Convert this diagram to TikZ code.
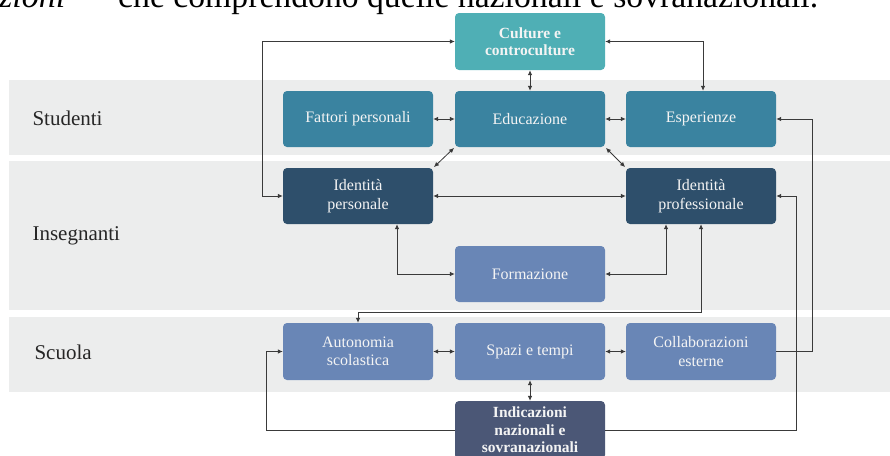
\documentclass[tikz,border=0pt]{standalone}
\usepackage{fontspec}
\setmainfont{Liberation Serif}
\usetikzlibrary{arrows.meta}

\definecolor{bandgray}{HTML}{ECEDED}
\definecolor{cteal}{HTML}{4FAFB5}
\definecolor{cstud}{HTML}{3A83A0}
\definecolor{cident}{HTML}{2E4F6B}
\definecolor{cschool}{HTML}{6986B6}
\definecolor{cnorm}{HTML}{4B5776}
\definecolor{linkcol}{HTML}{3A3A3A}
\definecolor{boxtext}{HTML}{F4F4F4}

\tikzset{
  band/.style={fill=bandgray, draw=none},
  bandlabel/.style={anchor=west, font=\fontsize{21}{24}\selectfont, text=black!85},
  stepbox/.style={rectangle, rounded corners=4pt, minimum width=150pt,
    minimum height=56pt, inner sep=0pt, align=center, text=boxtext,
    font=\fontsize{16}{18.5}\selectfont},
  boldbox/.style={stepbox, font=\fontsize{15.5}{17.5}\selectfont\bfseries},
  link/.style={draw=linkcol, line width=0.8pt},
  both/.style={link, {Latex[length=5pt,width=4.5pt]}-{Latex[length=5pt,width=4.5pt]}},
  one/.style={link, -{Latex[length=5pt,width=4.5pt]}},
}

\begin{document}
\begin{tikzpicture}[x=1pt, y=-1pt]
  \path[use as bounding box] (0,0) rectangle (890,455);
  \clip (0,0) rectangle (890,455);

  % running text above the figure
  \node[anchor=base west, inner sep=0pt, font=\fontsize{34}{34}\selectfont\itshape] (runa) at (-1,7) {zioni};
  \node[anchor=base west, inner sep=0pt, font=\fontsize{33.7}{34}\selectfont] (runb) at (118,7)
    {che comprendono quelle nazionali e sovranazionali.};

  % horizontal bands
  \fill[band] (9,80) rectangle (890,155);
  \fill[band] (9,161) rectangle (890,310);
  \fill[band] (9,317) rectangle (890,392);

  \node[bandlabel] (lstud) at (29,118) {Studenti};
  \node[bandlabel] (lins)  at (29,236) {Insegnanti};
  \node[bandlabel] (lscu)  at (31,352) {Scuola};

  % boxes
  \node[boldbox, fill=cteal, minimum height=57pt, font=\fontsize{15.5}{17}\selectfont\bfseries]
    (cult) at (530,41.5) {Culture e\\controculture};

  \node[stepbox, fill=cstud] (fatt) at (358,119) {Fattori personali};
  \node[stepbox, fill=cstud] (edu)  at (530,119) {Educazione};
  \node[stepbox, fill=cstud] (esp)  at (701,119) {Esperienze};

  \node[stepbox, fill=cident] (idp)   at (358,196) {Identità\\personale};
  \node[stepbox, fill=cident] (idpro) at (701,196) {Identità\\professionale};

  \node[stepbox, fill=cschool] (form) at (530,274) {Formazione};

  \node[stepbox, fill=cschool, minimum height=57pt] (auto)  at (358,351.5) {Autonomia\\scolastica};
  \node[stepbox, fill=cschool, minimum height=57pt] (spazi) at (530,351.5) {Spazi e tempi};
  \node[stepbox, fill=cschool, minimum height=57pt] (coll)  at (701,351.5) {Collaborazioni\\esterne};

  \node[boldbox, fill=cnorm, minimum height=58pt] (ind) at (530,430) {Indicazioni\\nazionali e\\sovranazionali};

  % connectors
  \draw[both] (cult) -- (edu);
  \draw[both] (idp.west) -- ++(-20,0) |- (cult.west);
  \draw[both] (cult.east) -| ([xshift=2pt]esp.north);

  \draw[both] (fatt) -- (edu);
  \draw[both] (edu) -- (esp);

  \draw[both, shorten <=1pt, shorten >=1pt] (edu.south west) -- (idp.north east);
  \draw[both, shorten <=1pt, shorten >=1pt] (edu.south east) -- (idpro.north west);

  \draw[both] (idp) -- (idpro);

  \draw[both] ([xshift=39pt]idp.south) |- (form.west);
  \draw[both] (form.east) -| ([xshift=-35pt]idpro.south);

  \draw[both] (idpro.south) |- ([yshift=10pt]auto.north) -- (auto.north);

  \draw[one] (coll.east) -- ++(36,0) |- (esp.east);
  \draw[one] (ind.east) -- ++(191,0) |- (idpro.east);
  \draw[one] (ind.west) -- ++(-188,0) |- (auto.west);

  \draw[both] (auto) -- (spazi);
  \draw[both] (spazi) -- (coll);
  \draw[both] (spazi) -- (ind);
\end{tikzpicture}
\end{document}
